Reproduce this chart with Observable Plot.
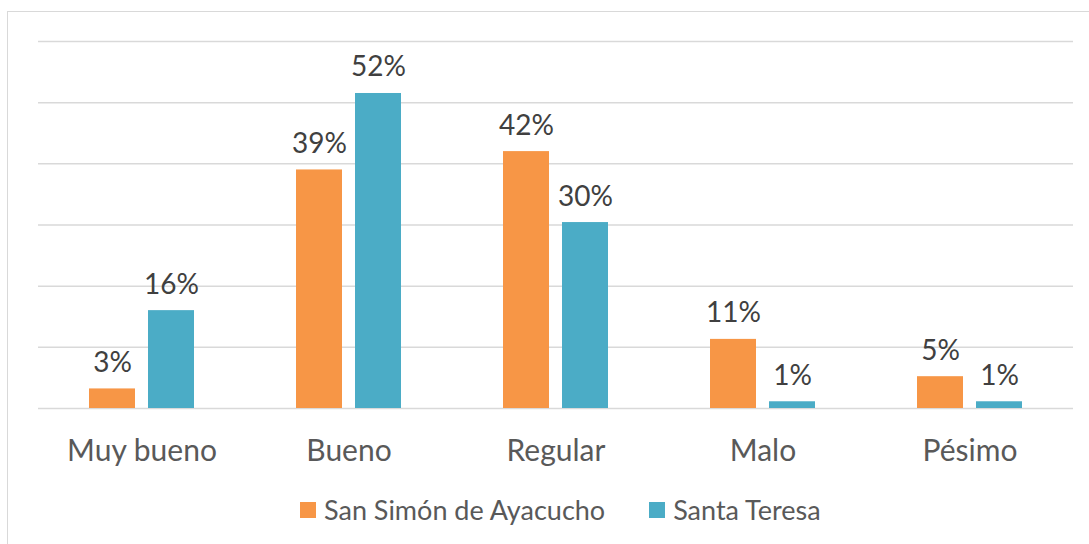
<!DOCTYPE html>
<html>
<head>
<meta charset="utf-8">
<script src="https://cdn.jsdelivr.net/npm/d3@7"></script>
<script src="https://cdn.jsdelivr.net/npm/@observablehq/plot@0.6"></script>
<style>
  html, body { margin: 0; padding: 0; background: #fff; overflow: hidden; }
  #frame { position: absolute; left: 7px; top: 11px; width: 1200px; height: 600px; border: 1.5px solid #d9d9d9; box-sizing: border-box; }
  #chart { position: absolute; left: 0; top: 0; }
  #legend { position: absolute; top: 493px; left: 300px; display: flex; align-items: center; font-family: Lato, "Open Sans", sans-serif; font-size: 27px; color: #595959; white-space: nowrap; }
  .sw { display: inline-block; width: 16px; height: 16px; margin-right: 8px; }
  .item { display: flex; align-items: center; margin-right: 44px; }
</style>
</head>
<body>
<div id="frame"></div>
<div id="chart"></div>
<div id="legend"></div>
<script>
const categories = ["Muy bueno", "Bueno", "Regular", "Malo", "Pésimo"];
const seriesNames = ["San Simón de Ayacucho", "Santa Teresa"];
const sanSimon = [3.2, 39, 42, 11.3, 5.2];
const santaTeresa = [16, 51.5, 30.4, 1.1, 1.1];
const yTicks = [0, 10, 20, 30, 40, 50, 60];
const colors = ["#F79646", "#4BACC6"];

const data = [];
categories.forEach((c, i) => {
  data.push({cat: c, series: seriesNames[0], value: sanSimon[i]});
  data.push({cat: c, series: seriesNames[1], value: santaTeresa[i]});
});

const chart = Plot.plot({
  width: 1089,
  height: 480,
  marginLeft: 37,
  marginRight: 15,
  marginTop: 41,
  marginBottom: 72,
  style: {fontFamily: "Lato, 'Open Sans', sans-serif", background: "transparent"},
  fx: {domain: categories, padding: 0, label: null},
  x: {domain: seriesNames, paddingInner: 0.217, paddingOuter: 0.837, axis: null},
  y: {domain: [0, 60], axis: null},
  color: {domain: seriesNames, range: colors},
  marks: [
    Plot.ruleY(yTicks, {stroke: "#d9d9d9", strokeWidth: 1.5}),
    Plot.barY(data, {fx: "cat", x: "series", y: "value", fill: "series"}),
    Plot.text(data, {fx: "cat", x: "series", y: "value", text: d => Math.round(d.value) + "%", lineAnchor: "bottom", dy: -17, fill: "#404040", fontSize: 28}),
    Plot.axisFx({anchor: "bottom", tickSize: 0, tickPadding: 31, fontSize: 30, fill: "#595959", label: null})
  ]
});
document.getElementById("chart").appendChild(chart);

const legend = document.getElementById("legend");
seriesNames.forEach((s, i) => {
  const item = document.createElement("div");
  item.className = "item";
  const sw = document.createElement("span");
  sw.className = "sw";
  sw.style.background = colors[i];
  item.appendChild(sw);
  item.appendChild(document.createTextNode(s));
  legend.appendChild(item);
});
</script>
</body>
</html>
